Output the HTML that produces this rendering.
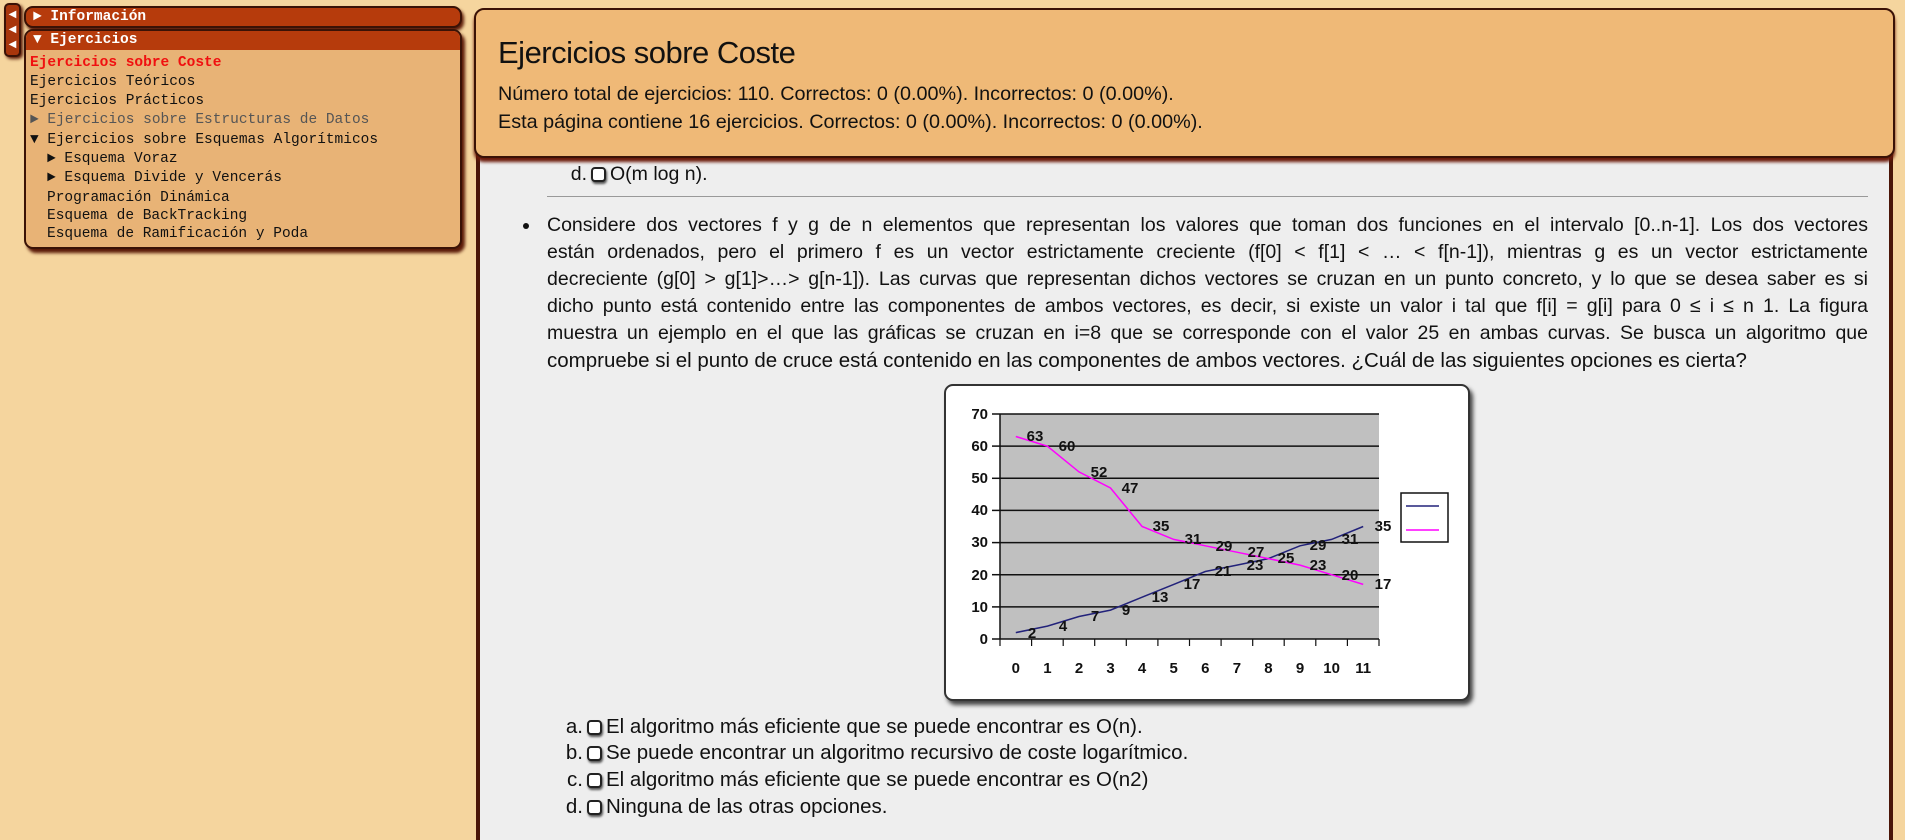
<!DOCTYPE html>
<html><head><meta charset="utf-8">
<style>
*{margin:0;padding:0;box-sizing:border-box}
body{width:1905px;height:828px;overflow:hidden;background:#f5d59e;position:relative;font-family:"Liberation Sans",sans-serif;color:#111}
.abs{position:absolute}
.mono{font-family:"Liberation Mono",monospace}
#tab{left:4px;top:3px;width:17px;height:54px;background:#a8360c;border:2px solid #3a1206;border-radius:5px;box-shadow:2px 2px 3px #5a1a08;color:#fff;font-size:10px;line-height:15px;text-align:center;padding-top:3px}
#info{left:24px;top:6px;width:438px;height:22px;background:#b63b0c;border:2px solid #3a1206;border-radius:9px;box-shadow:2px 3px 3px #5a1a08;color:#fff;font-weight:bold;font-size:14.5px;line-height:18px;padding-left:7px}
#ej{left:24px;top:29px;width:438px;height:220px;background:#e8b376;border:2px solid #3a1206;border-radius:9px;box-shadow:3px 4px 3px #5a1a08;overflow:hidden}
#ej .hd{background:#b63b0c;color:#fff;font-weight:bold;font-size:14.5px;height:19px;line-height:18px;padding-left:7px}
#ej .it{position:absolute;font-size:14.5px;white-space:nowrap}
#content{left:476px;top:100px;width:1417px;height:740px;background:#eeeeee;border-left:4px solid #4a1507;border-right:4px solid #4a1507}
#head{left:474px;top:8px;width:1421px;height:150px;background:#efb977;border:2px solid #3a1206;border-radius:10px;box-shadow:0 4px 3px #6b1a0a}
#head h1{position:absolute;left:22px;top:25px;font-size:31px;font-weight:normal;letter-spacing:-0.5px}
#head p{position:absolute;left:22px;font-size:19.8px;white-space:nowrap}
.ln{position:absolute;left:547px;width:1321px;font-size:19.5px;text-align:justify;text-align-last:justify;white-space:nowrap;height:27px;line-height:27px}
.ln.last{text-align-last:left;font-size:20.5px}
.cb{display:inline-block;width:15px;height:15px;border:2px solid #222;border-radius:4px;background:#fff;box-shadow:1px 2px 2px #555;vertical-align:-2px;margin:0 4px 0 4px}
.opt{position:absolute;font-size:20.5px;white-space:nowrap;line-height:22px}
.opt b{display:inline-block;width:22px;text-align:right;font-weight:normal}
</style></head><body>
<div id="tab" class="abs mono">◀<br>◀<br>◀</div>
<div id="info" class="abs mono">► Información</div>
<div id="ej" class="abs mono">
<div class="hd">▼ Ejercicios</div>
<div class="it" style="left:4px;top:24px;color:#f01010;font-weight:bold">Ejercicios sobre Coste</div>
<div class="it" style="left:4px;top:43px">Ejercicios Teóricos</div>
<div class="it" style="left:4px;top:62px">Ejercicios Prácticos</div>
<div class="it" style="left:4px;top:81px;color:#555">► Ejercicios sobre Estructuras de Datos</div>
<div class="it" style="left:4px;top:101px">▼ Ejercicios sobre Esquemas Algorítmicos</div>
<div class="it" style="left:21px;top:120px">► Esquema Voraz</div>
<div class="it" style="left:21px;top:139px">► Esquema Divide y Vencerás</div>
<div class="it" style="left:21px;top:159px">Programación Dinámica</div>
<div class="it" style="left:21px;top:177px">Esquema de BackTracking</div>
<div class="it" style="left:21px;top:195px">Esquema de Ramificación y Poda</div>
</div>

<div id="content" class="abs"></div>
<div class="opt" style="left:561px;top:163px;font-size:19.5px"><b style="width:26px">d.</b><span class="cb"></span>O(m log n).</div>
<div class="abs" style="left:547px;top:196px;width:1321px;height:1px;background:#999"></div>

<div class="abs" style="left:523px;top:223px;width:6px;height:6px;border-radius:3px;background:#111"></div>
<div class="ln" style="top:212px">Considere dos vectores f y g de n elementos que representan los valores que toman dos funciones en el intervalo [0..n-1]. Los dos vectores</div>
<div class="ln" style="top:239px">están ordenados, pero el primero f es un vector estrictamente creciente (f[0] &lt; f[1] &lt; … &lt; f[n-1]), mientras g es un vector estrictamente</div>
<div class="ln" style="top:266px">decreciente (g[0] &gt; g[1]&gt;…&gt; g[n-1]). Las curvas que representan dichos vectores se cruzan en un punto concreto, y lo que se desea saber es si</div>
<div class="ln" style="top:293px">dicho punto está contenido entre las componentes de ambos vectores, es decir, si existe un valor i tal que f[i] = g[i] para 0 ≤ i ≤ n 1. La figura</div>
<div class="ln" style="top:320px">muestra un ejemplo en el que las gráficas se cruzan en i=8 que se corresponde con el valor 25 en ambas curvas. Se busca un algoritmo que</div>
<div class="ln last" style="top:347px">compruebe si el punto de cruce está contenido en las componentes de ambos vectores. ¿Cuál de las siguientes opciones es cierta?</div>

<div class="abs" style="left:944px;top:384px;width:526px;height:317px;background:#fff;border:2px solid #333;border-radius:9px;box-shadow:3px 4px 4px #444"></div>
<svg class="abs" style="left:0;top:0" width="1905" height="828" font-family="Liberation Sans, sans-serif" font-weight="bold" font-size="15">
<rect x="1000" y="414" width="379" height="225" fill="#c0c0c0"/>
<g stroke="#111" stroke-width="1.5">
<line x1="1000" y1="414" x2="1379" y2="414"/><line x1="1000" y1="446.1" x2="1379" y2="446.1"/><line x1="1000" y1="478.3" x2="1379" y2="478.3"/><line x1="1000" y1="510.4" x2="1379" y2="510.4"/><line x1="1000" y1="542.6" x2="1379" y2="542.6"/><line x1="1000" y1="574.7" x2="1379" y2="574.7"/><line x1="1000" y1="606.9" x2="1379" y2="606.9"/>
<line x1="1000" y1="639" x2="1379" y2="639"/><line x1="1000" y1="414" x2="1000" y2="639"/>
<line x1="992" y1="414" x2="1000" y2="414"/><line x1="992" y1="446.1" x2="1000" y2="446.1"/><line x1="992" y1="478.3" x2="1000" y2="478.3"/><line x1="992" y1="510.4" x2="1000" y2="510.4"/><line x1="992" y1="542.6" x2="1000" y2="542.6"/><line x1="992" y1="574.7" x2="1000" y2="574.7"/><line x1="992" y1="606.9" x2="1000" y2="606.9"/><line x1="992" y1="639" x2="1000" y2="639"/>
</g>
<g stroke="#111" stroke-width="1.2">
<line x1="1000" y1="639" x2="1000" y2="646"/><line x1="1031.6" y1="639" x2="1031.6" y2="646"/><line x1="1063.2" y1="639" x2="1063.2" y2="646"/><line x1="1094.7" y1="639" x2="1094.7" y2="646"/><line x1="1126.3" y1="639" x2="1126.3" y2="646"/><line x1="1157.9" y1="639" x2="1157.9" y2="646"/><line x1="1189.5" y1="639" x2="1189.5" y2="646"/><line x1="1221.1" y1="639" x2="1221.1" y2="646"/><line x1="1252.7" y1="639" x2="1252.7" y2="646"/><line x1="1284.2" y1="639" x2="1284.2" y2="646"/><line x1="1315.8" y1="639" x2="1315.8" y2="646"/><line x1="1347.4" y1="639" x2="1347.4" y2="646"/><line x1="1379" y1="639" x2="1379" y2="646"/>
</g>
<g text-anchor="end" fill="#111">
<text x="988" y="419">70</text><text x="988" y="451">60</text><text x="988" y="483">50</text><text x="988" y="515">40</text><text x="988" y="547">30</text><text x="988" y="580">20</text><text x="988" y="612">10</text><text x="988" y="644">0</text>
</g>
<g text-anchor="middle" fill="#111">
<text x="1015.8" y="673">0</text><text x="1047.4" y="673">1</text><text x="1079" y="673">2</text><text x="1110.5" y="673">3</text><text x="1142.1" y="673">4</text><text x="1173.7" y="673">5</text><text x="1205.3" y="673">6</text><text x="1236.9" y="673">7</text><text x="1268.4" y="673">8</text><text x="1300" y="673">9</text><text x="1331.6" y="673">10</text><text x="1363.2" y="673">11</text>
</g>
<polyline fill="none" stroke="#22227a" stroke-width="1.5" points="1015.8,632.6 1047.4,626.1 1079,616.5 1110.5,610.1 1142.1,597.2 1173.7,584.4 1205.3,571.5 1236.9,565.1 1268.4,558.6 1300,545.8 1331.6,539.4 1363.2,526.5"/>
<polyline fill="none" stroke="#ff00ff" stroke-width="1.5" points="1015.8,436.5 1047.4,446.2 1079,471.9 1110.5,488 1142.1,526.5 1173.7,539.4 1205.3,545.8 1236.9,552.2 1268.4,558.6 1300,565.1 1331.6,574.7 1363.2,584.4"/>
<g text-anchor="middle" fill="#111">
<text x="1032" y="638">2</text><text x="1063" y="631">4</text><text x="1095" y="621">7</text><text x="1126" y="615">9</text><text x="1160" y="602">13</text><text x="1192" y="589">17</text><text x="1223" y="576">21</text><text x="1255" y="570">23</text><text x="1286" y="563">25</text><text x="1318" y="550">29</text><text x="1350" y="544">31</text><text x="1383" y="531">35</text>
<text x="1035" y="441">63</text><text x="1067" y="451">60</text><text x="1099" y="477">52</text><text x="1130" y="493">47</text><text x="1161" y="531">35</text><text x="1193" y="544">31</text><text x="1224" y="551">29</text><text x="1256" y="557">27</text><text x="1318" y="570">23</text><text x="1350" y="580">20</text><text x="1383" y="589">17</text>
</g>
<rect x="1401" y="493" width="47" height="49" fill="#fff" stroke="#111" stroke-width="1.5"/>
<line x1="1406" y1="506" x2="1439" y2="506" stroke="#22227a" stroke-width="1.5"/>
<line x1="1406" y1="530" x2="1439" y2="530" stroke="#ff00ff" stroke-width="1.5"/>
</svg>

<div class="opt" style="left:561px;top:716px"><b>a.</b><span class="cb"></span>El algoritmo más eficiente que se puede encontrar es O(n).</div>
<div class="opt" style="left:561px;top:742px"><b>b.</b><span class="cb"></span>Se puede encontrar un algoritmo recursivo de coste logarítmico.</div>
<div class="opt" style="left:561px;top:769px"><b>c.</b><span class="cb"></span>El algoritmo más eficiente que se puede encontrar es O(n2)</div>
<div class="opt" style="left:561px;top:796px"><b>d.</b><span class="cb"></span>Ninguna de las otras opciones.</div>

<div id="head" class="abs">
<h1>Ejercicios sobre Coste</h1>
<p style="top:73px">Número total de ejercicios: 110. Correctos: 0 (0.00%). Incorrectos: 0 (0.00%).</p>
<p style="top:101px">Esta página contiene 16 ejercicios. Correctos: 0 (0.00%). Incorrectos: 0 (0.00%).</p>
</div>
</body></html>
